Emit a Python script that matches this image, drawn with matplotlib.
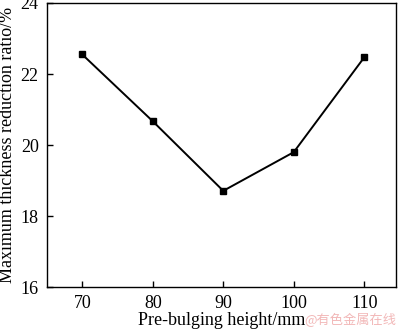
import matplotlib
matplotlib.use("Agg")
import matplotlib.pyplot as plt

# data
height = [70, 80, 90, 100, 110]
ratio = [22.55, 20.67, 18.71, 19.8, 22.47]
xticks = [70, 80, 90, 100, 110]
yticks = [16, 18, 20, 22, 24]

plt.rcParams['font.family'] = ['Liberation Serif', 'DejaVu Serif']

fig = plt.figure(figsize=(4, 3.3), dpi=100)
ax = fig.add_axes([0.1175, 0.13, 0.8725, 0.861])

ax.plot(height, ratio, 'k-', lw=1.4, marker='s', ms=4.5)

ax.set_xlim(65, 114.5)
ax.set_ylim(16, 24)
ax.set_xticks(xticks)
ax.set_yticks(yticks)
ax.tick_params(direction='in', labelsize=13, length=4.5, width=1, pad=6)
ax.set_xlabel("Pre-bulging height/mm", fontsize=13, labelpad=0)
ax.set_ylabel("Maximum thickness reduction ratio/%", fontsize=13, labelpad=3)
for s in ax.spines.values():
    s.set_linewidth(1)

# watermark
fig.text(0.99, 0.008, "@有色金属在线", color='#f2b8b8', fontsize=9.5, ha='right', va='bottom',
         family=['Noto Sans CJK SC', 'DejaVu Sans'])

fig.savefig("out.png", dpi=100)
